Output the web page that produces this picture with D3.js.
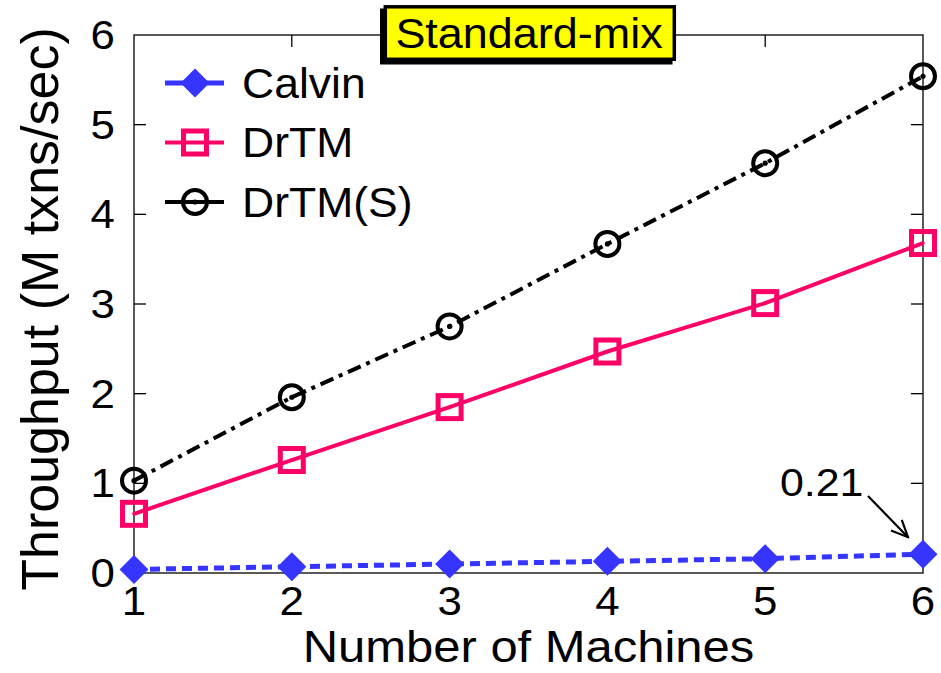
<!DOCTYPE html>
<html>
<head>
<meta charset="utf-8">
<script src="https://cdn.jsdelivr.net/npm/d3@7"></script>
<style>
  body { margin: 0; background: #fff; }
  svg { font-family: "Liberation Sans", Arial, sans-serif; }
</style>
</head>
<body>
<div id="chart"></div>
<script>
const machines = [1, 2, 3, 4, 5, 6];
const calvin = [0.04, 0.07, 0.10, 0.13, 0.16, 0.21];
const drtm = [0.66, 1.26, 1.85, 2.47, 3.01, 3.68];
const drtmS = [1.03, 1.96, 2.75, 3.67, 4.57, 5.54];
const yTicks = [0, 1, 2, 3, 4, 5, 6];
const seriesNames = ["Calvin", "DrTM", "DrTM(S)"];

const W = 941, H = 673;
const margin = { top: 35, right: 18, bottom: 100, left: 134 };
const width = W - margin.left - margin.right;
const height = H - margin.top - margin.bottom;

// the reference text is a little wider than plain Arial
const stretch = 1.07;
const place = (px, py, sx = stretch) => `translate(${px},${py}) scale(${sx},1)`;

const svg = d3.select("#chart").append("svg")
    .attr("width", W)
    .attr("height", H);

const g = svg.append("g")
    .attr("transform", `translate(${margin.left},${margin.top})`);

const x = d3.scaleLinear().domain([1, 6]).range([0, width]);
const y = d3.scaleLinear().domain([0, 6]).range([height, 0]);

// frame
g.append("rect")
    .attr("width", width).attr("height", height)
    .attr("fill", "none").attr("stroke", "#000").attr("stroke-width", 1.3);

// inward ticks, mirrored on top and right
const tickLen = 12;
const inner = arr => arr.slice(1, -1);
g.append("g").selectAll("line").data(inner(machines)).join("line")
    .attr("x1", d => x(d)).attr("x2", d => x(d))
    .attr("y1", height).attr("y2", height - tickLen);
g.append("g").selectAll("line").data(inner(machines)).join("line")
    .attr("x1", d => x(d)).attr("x2", d => x(d))
    .attr("y1", 0).attr("y2", tickLen);
g.append("g").selectAll("line").data(inner(yTicks)).join("line")
    .attr("x1", 0).attr("x2", tickLen)
    .attr("y1", d => y(d)).attr("y2", d => y(d));
g.append("g").selectAll("line").data(inner(yTicks)).join("line")
    .attr("x1", width).attr("x2", width - tickLen)
    .attr("y1", d => y(d)).attr("y2", d => y(d));
g.selectAll("g line").attr("stroke", "#000").attr("stroke-width", 1.3);

// tick labels
g.append("g").selectAll("text").data(machines).join("text")
    .attr("transform", d => place(x(d), height + 42))
    .attr("text-anchor", "middle")
    .attr("font-size", 41)
    .text(d => d);
g.append("g").selectAll("text").data(yTicks).join("text")
    .attr("transform", d => place(-19, y(d) + 14))
    .attr("text-anchor", "end")
    .attr("font-size", 41)
    .text(d => d);

// axis titles
svg.append("text")
    .attr("transform", place(margin.left + width / 2, 662, 1.1))
    .attr("text-anchor", "middle")
    .attr("font-size", 44.5)
    .text("Number of Machines");
svg.append("text")
    .attr("transform", `translate(58,309) rotate(-90)`)
    .attr("text-anchor", "middle")
    .attr("font-size", 52)
    .text("Throughput (M txns/sec)");

const series = [
    { name: seriesNames[0], values: calvin, color: "#3535ff", dash: "10,6", width: 5, marker: "diamond" },
    { name: seriesNames[1], values: drtm, color: "#ff0066", dash: null, width: 4, marker: "square" },
    { name: seriesNames[2], values: drtmS, color: "#000000", dash: "14,6,4,6", width: 4, marker: "circle" }
];

const line = d3.line().x((d, i) => x(machines[i])).y(d => y(d));

function drawMarker(sel, s) {
    if (s.marker === "diamond") {
        sel.append("path")
            .attr("d", "M0,-14.5L14.5,0L0,14.5L-14.5,0Z")
            .attr("fill", s.color);
    } else if (s.marker === "square") {
        sel.append("rect")
            .attr("x", -11.5).attr("y", -11.5).attr("width", 23).attr("height", 23)
            .attr("fill", "none").attr("stroke", s.color).attr("stroke-width", 5);
        sel.append("circle").attr("r", 1.8).attr("fill", s.color);
    } else {
        sel.append("circle")
            .attr("r", 12)
            .attr("fill", "none").attr("stroke", s.color).attr("stroke-width", 4);
        sel.append("circle").attr("r", 2.6).attr("fill", s.color);
    }
}

series.forEach(s => {
    g.append("path")
        .datum(s.values)
        .attr("d", line)
        .attr("fill", "none")
        .attr("stroke", s.color)
        .attr("stroke-width", s.width)
        .attr("stroke-dasharray", s.dash);
    g.append("g").selectAll("g").data(s.values).join("g")
        .attr("transform", (d, i) => `translate(${x(machines[i])},${y(d)})`)
        .each(function () { drawMarker(d3.select(this), s); });
});

// legend
const legend = svg.append("g").attr("transform", "translate(165,83)");
series.forEach((s, i) => {
    const row = legend.append("g").attr("transform", `translate(0,${i * 59.5})`);
    row.append("line")
        .attr("x1", 0).attr("x2", 59)
        .attr("stroke", s.color).attr("stroke-width", s.width);
    drawMarker(row.append("g").attr("transform", "translate(30,0)"), s);
    row.append("text")
        .attr("transform", place(77, 14.5, 1.06))
        .attr("font-size", 42)
        .text(s.name);
});

// annotation for last Calvin point
const last = calvin[calvin.length - 1];
svg.append("text")
    .attr("transform", place(780, 496, 1.1))
    .attr("font-size", 39)
    .text(last.toFixed(2));

svg.append("defs").append("marker")
    .attr("id", "arrow")
    .attr("viewBox", "0 0 12 12")
    .attr("refX", 11).attr("refY", 6)
    .attr("markerUnits", "userSpaceOnUse")
    .attr("markerWidth", 20).attr("markerHeight", 20)
    .attr("orient", "auto")
    .append("path")
    .attr("d", "M1,1.5L11,6L1,10.5")
    .attr("fill", "none").attr("stroke", "#000").attr("stroke-width", 1.3);

svg.append("line")
    .attr("x1", 868).attr("y1", 496)
    .attr("x2", margin.left + x(6) - 15).attr("y2", margin.top + y(last) - 17)
    .attr("stroke", "#000").attr("stroke-width", 2.2)
    .attr("marker-end", "url(#arrow)");

// title box with drop shadow
const tb = svg.append("g");
tb.append("rect")
    .attr("x", 380).attr("y", 8.5).attr("width", 292.5).attr("height", 56)
    .attr("fill", "#000");
tb.append("rect")
    .attr("x", 385.3).attr("y", 6.8).attr("width", 289).attr("height", 52.5)
    .attr("fill", "#ffff00").attr("stroke", "#000").attr("stroke-width", 3.5);
tb.append("text")
    .attr("transform", place(529, 48, 1.07))
    .attr("text-anchor", "middle")
    .attr("font-size", 42)
    .text("Standard-mix");
</script>
</body>
</html>
